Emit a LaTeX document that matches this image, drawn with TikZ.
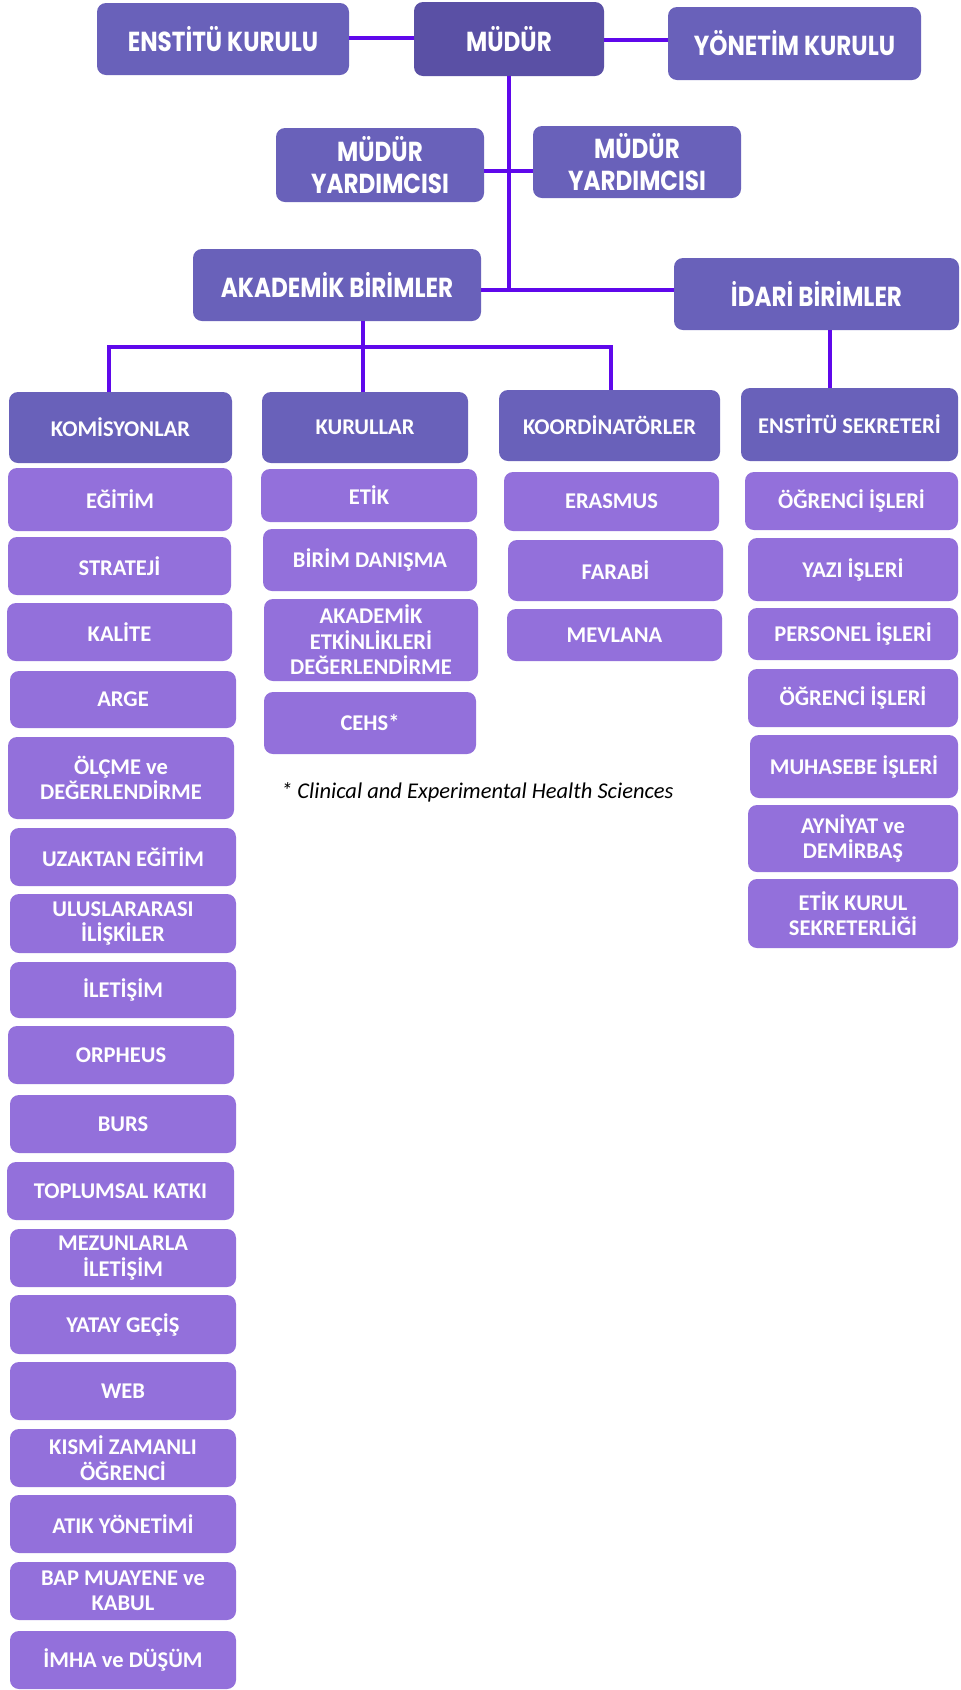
\documentclass[tikz,border=0pt]{standalone}
\usepackage{fontspec}
\setmainfont{Carlito}
\newfontfamily\hdfont[FakeStretch=0.84]{Poppins}
\usetikzlibrary{calc}
\definecolor{topc}{RGB}{105,97,186}
\definecolor{mudc}{RGB}{90,80,165}
\definecolor{itemc}{RGB}{147,112,219}
\definecolor{linec}{RGB}{95,8,235}
\tikzset{
  hdbox/.style={fill=topc, rounded corners=9pt, text=white, font=\hdfont\bfseries\fontsize{27.5}{32}\selectfont, align=center, inner sep=0pt},
  mdbox/.style={hdbox, fill=mudc},
  colbox/.style={fill=topc, rounded corners=9pt, text=white, font=\bfseries\fontsize{22.5}{25.5}\selectfont, align=center, inner sep=0pt},
  itbox/.style={colbox, fill=itemc},
  conn/.style={draw=linec, line width=4.5pt, line join=miter}
}
\newcommand\bx[7]{\node[#1, minimum width={(#4-#3)*1pt}, minimum height={(#6-#5)*1pt}] (#2) at ({(#3+#4)/2},{(#5+#6)/2}) {#7};}
\begin{document}
\begin{tikzpicture}[x=1pt,y=-1pt]
\fill[white] (0,0) rectangle (961,1690);
\useasboundingbox (0,0) rectangle (961,1690);
% top level
\bx{hdbox}{ek}{97}{349}{3}{75}{ENSTİTÜ KURULU}
\bx{mdbox}{mudur}{414}{604}{2}{76}{MÜDÜR}
\bx{hdbox}{yk}{668}{921}{7}{80}{YÖNETİM KURULU}
\bx{hdbox}{ym1}{276}{484}{128}{202}{MÜDÜR\\YARDIMCISI}
\bx{hdbox}{ym2}{533}{741}{126}{198}{MÜDÜR\\YARDIMCISI}
\bx{hdbox}{akb}{193}{481}{249}{321}{AKADEMİK BİRİMLER}
\bx{hdbox}{idb}{674}{959}{258}{330}{İDARİ BİRİMLER}
% column headers
\bx{colbox}{kom}{9}{232}{392}{463}{KOMİSYONLAR}
\bx{colbox}{kur}{262}{468}{392}{463}{KURULLAR}
\bx{colbox}{koo}{499}{720}{390}{461}{KOORDİNATÖRLER}
\bx{colbox}{es}{741}{958}{388}{461}{ENSTİTÜ SEKRETERİ}
% komisyonlar
\bx{itbox}{k1}{8}{232}{468}{531}{EĞİTİM}
\bx{itbox}{k2}{8}{231}{537}{595}{STRATEJİ}
\bx{itbox}{k3}{7}{232}{603}{661}{KALİTE}
\bx{itbox}{k4}{10}{236}{671}{728}{ARGE}
\bx{itbox}{k5}{8}{234}{737}{819}{ÖLÇME ve\\DEĞERLENDİRME}
\bx{itbox}{k6}{10}{236}{828}{886}{UZAKTAN EĞİTİM}
\bx{itbox}{k7}{10}{236}{894}{953}{ULUSLARARASI\\İLİŞKİLER}
\bx{itbox}{k8}{10}{236}{962}{1018}{İLETİŞİM}
\bx{itbox}{k9}{8}{234}{1026}{1084}{ORPHEUS}
\bx{itbox}{k10}{10}{236}{1095}{1153}{BURS}
\bx{itbox}{k11}{7}{234}{1162}{1220}{TOPLUMSAL KATKI}
\bx{itbox}{k12}{10}{236}{1229}{1287}{MEZUNLARLA\\İLETİŞİM}
\bx{itbox}{k13}{10}{236}{1295}{1354}{YATAY GEÇİŞ}
\bx{itbox}{k14}{10}{236}{1362}{1420}{WEB}
\bx{itbox}{k15}{10}{236}{1429}{1487}{KISMİ ZAMANLI\\ÖĞRENCİ}
\bx{itbox}{k16}{10}{236}{1495}{1553}{ATIK YÖNETİMİ}
\bx{itbox}{k17}{10}{236}{1562}{1620}{BAP MUAYENE ve\\KABUL}
\bx{itbox}{k18}{10}{236}{1631}{1689}{İMHA ve DÜŞÜM}
% kurullar
\bx{itbox}{u1}{261}{477}{469}{522}{ETİK}
\bx{itbox}{u2}{263}{477}{529}{591}{BİRİM DANIŞMA}
\bx{itbox}{u3}{264}{478}{599}{681}{AKADEMİK\\ETKİNLİKLERİ\\DEĞERLENDİRME}
\bx{itbox}{u4}{264}{476}{692}{754}{CEHS*}
% koordinatorler
\bx{itbox}{o1}{504}{719}{472}{531}{ERASMUS}
\bx{itbox}{o2}{508}{723}{540}{601}{FARABİ}
\bx{itbox}{o3}{507}{722}{609}{661}{MEVLANA}
% enstitu sekreteri
\bx{itbox}{s1}{745}{958}{472}{530}{ÖĞRENCİ İŞLERİ}
\bx{itbox}{s2}{748}{958}{538}{601}{YAZI İŞLERİ}
\bx{itbox}{s3}{748}{958}{608}{660}{PERSONEL İŞLERİ}
\bx{itbox}{s4}{748}{958}{669}{727}{ÖĞRENCİ İŞLERİ}
\bx{itbox}{s5}{750}{958}{735}{798}{MUHASEBE İŞLERİ}
\bx{itbox}{s6}{748}{958}{805}{872}{AYNİYAT ve\\DEMİRBAŞ}
\bx{itbox}{s7}{748}{958}{879}{948}{ETİK KURUL\\SEKRETERLİĞİ}
% footnote
\node[font=\itshape\fontsize{22.5}{25}\selectfont, anchor=west, inner sep=0pt] (fn) at (281,792) {* Clinical and Experimental Health Sciences};
% connectors
\coordinate (ty) at (0,38);
\coordinate (ty2) at (0,40);
\coordinate (yl) at (0,171);
\coordinate (jy) at (0,290);
\coordinate (h) at (0,347);
\coordinate (av) at (363,347);
\coordinate (kx) at (109,0);
\coordinate (ox) at (611,0);
\coordinate (sx) at (830,0);
\draw[conn] (ek.east |- ty) -- (mudur.west |- ty);
\draw[conn] (mudur.east |- ty2) -- (yk.west |- ty2);
\draw[conn] (mudur.south) -- (mudur.south |- jy);
\draw[conn] (ym1.east |- yl) -- (ym2.west |- yl);
\draw[conn] (akb.east |- jy) -- (idb.west |- jy);
\draw[conn] (akb.south -| av) -- (av);
\draw[conn] (kom.north -| kx) -- (kx |- h) -- (ox |- h) -- (koo.north -| ox);
\draw[conn] (av) -- (kur.north -| av);
\draw[conn] (idb.south -| sx) -- (es.north -| sx);
\end{tikzpicture}
\end{document}
